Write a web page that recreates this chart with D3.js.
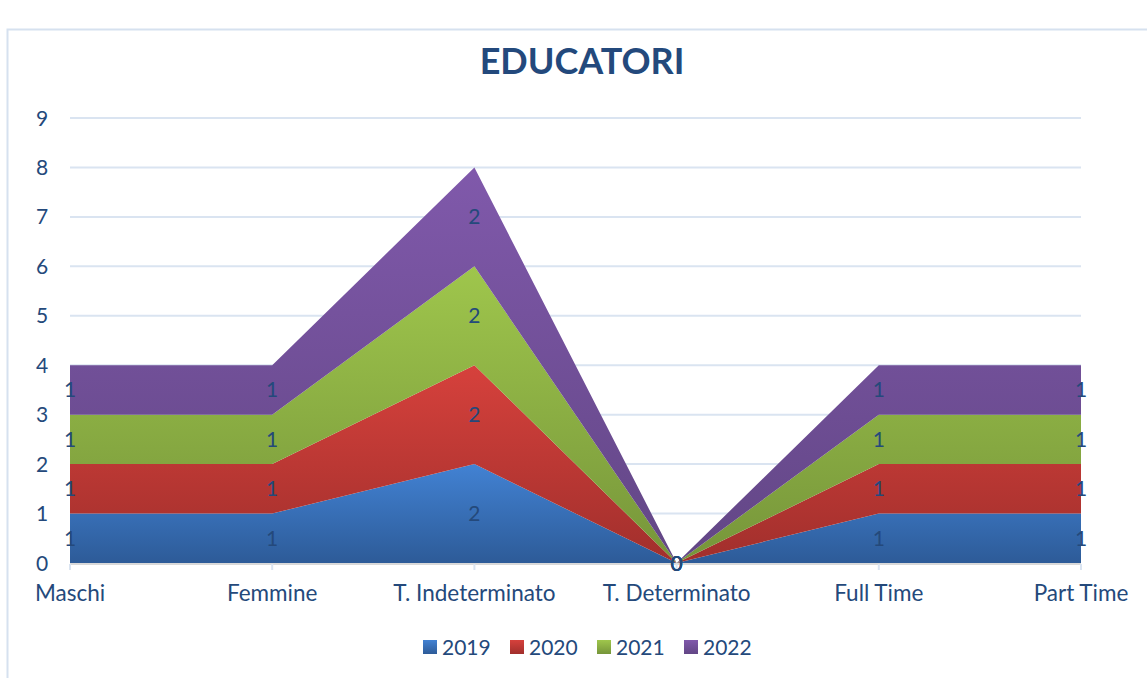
<!DOCTYPE html>
<html>
<head>
<meta charset="utf-8">
<script src="https://cdn.jsdelivr.net/npm/d3@7"></script>
<style>
  body { margin: 0; background: #fff; }
  text { font-family: Lato, "Open Sans", sans-serif; }
</style>
</head>
<body>
<div id="viz-container"></div>
<script>
// data
let categories = ["Maschi", "Femmine", "T. Indeterminato", "T. Determinato", "Full Time", "Part Time"];
let years = ["2019", "2020", "2021", "2022"];
let v2019 = [1, 1, 2, 0, 1, 1];
let v2020 = [1, 1, 2, 0, 1, 1];
let v2021 = [1, 1, 2, 0, 1, 1];
let v2022 = [1, 1, 2, 0, 1, 1];
let yTicks = [0, 1, 2, 3, 4, 5, 6, 7, 8, 9];

let colors = {
  "2019": ["#4282d3", "#2d5b98"],
  "2020": ["#d6413c", "#a12f2c"],
  "2021": ["#9fc64c", "#76953a"],
  "2022": ["#8059ab", "#624685"]
};
let textColor = "#24497b";

let W = 1147, H = 678;
let viz = d3.select("#viz-container")
  .append("svg")
    .attr("width", W)
    .attr("height", H)
;

// frame
viz.append("rect")
  .attr("x", 7.5).attr("y", 29.5)
  .attr("width", W).attr("height", H)
  .attr("fill", "none")
  .attr("stroke", "#d6e1ef")
  .attr("stroke-width", 2)
;

viz.append("text")
  .text("EDUCATORI")
    .attr("x", 582)
    .attr("y", 74)
    .attr("text-anchor", "middle")
    .attr("font-size", 36)
    .attr("font-weight", "bold")
    .attr("fill", "#23497c")
;

let table = categories.map(function(c, i){
  return {cat: c, "2019": v2019[i], "2020": v2020[i], "2021": v2021[i], "2022": v2022[i]};
});

let x = d3.scalePoint().domain(categories).range([70, 1081]);
let y = d3.scaleLinear().domain([0, 9]).range([563, 118]);

// gradients
let defs = viz.append("defs");
years.forEach(function(yr){
  let g = defs.append("linearGradient")
    .attr("id", "grad" + yr)
    .attr("x1", 0).attr("y1", 0).attr("x2", 0).attr("y2", 1);
  g.append("stop").attr("offset", "0%").attr("stop-color", colors[yr][0]);
  g.append("stop").attr("offset", "100%").attr("stop-color", colors[yr][1]);
});

// gridlines
viz.append("g").selectAll("line").data(yTicks.slice(1)).enter()
  .append("line")
    .attr("x1", 70).attr("x2", 1081)
    .attr("y1", d => y(d)).attr("y2", d => y(d))
    .attr("stroke", "#dae4f1")
    .attr("stroke-width", 2)
;

let stack = d3.stack().keys(years);
let series = stack(table);

let area = d3.area()
  .x(d => x(d.data.cat))
  .y0(d => y(d[0]))
  .y1(d => y(d[1]));

viz.append("g").selectAll("path").data(series).enter()
  .append("path")
    .attr("d", area)
    .attr("fill", d => "url(#grad" + d.key + ")")
;

// x axis line and ticks
viz.append("line")
  .attr("x1", 70).attr("x2", 1081)
  .attr("y1", 564).attr("y2", 564)
  .attr("stroke", "#d9d9d9")
  .attr("stroke-width", 2)
;
viz.append("g").selectAll("line").data(categories).enter()
  .append("line")
    .attr("x1", d => x(d)).attr("x2", d => x(d))
    .attr("y1", 564).attr("y2", 570)
    .attr("stroke", "#dae4f1")
    .attr("stroke-width", 2)
;

// y labels
viz.append("g").selectAll("text").data(yTicks).enter()
  .append("text")
    .attr("x", 42)
    .attr("y", d => y(d) + 7.5)
    .attr("text-anchor", "middle")
    .attr("font-size", 21)
    .attr("fill", textColor)
    .text(d => d)
;

// x labels
viz.append("g").selectAll("text").data(categories).enter()
  .append("text")
    .attr("x", d => x(d))
    .attr("y", 601)
    .attr("text-anchor", "middle")
    .attr("font-size", 22.5)
    .attr("fill", textColor)
    .text(d => d)
;

// data labels
series.forEach(function(s){
  viz.append("g").selectAll("text").data(s).enter()
    .append("text")
      .attr("x", d => x(d.data.cat))
      .attr("y", d => y((d[0] + d[1]) / 2) + 7.5)
      .attr("text-anchor", "middle")
      .attr("font-size", 21)
      .attr("fill", textColor)
      .text(d => d.data[s.key])
  ;
});

// legend
let legend = viz.append("g").selectAll("g").data(years).enter()
  .append("g")
    .attr("transform", (d, i) => "translate(" + (423 + i * 87) + ",640)")
;
legend.append("rect")
  .attr("width", 14).attr("height", 14)
  .attr("fill", d => "url(#grad" + d + ")")
;
legend.append("text")
  .attr("x", 19)
  .attr("y", 15)
  .attr("font-size", 21)
  .attr("fill", textColor)
  .text(d => d)
;
</script>
</body>
</html>
